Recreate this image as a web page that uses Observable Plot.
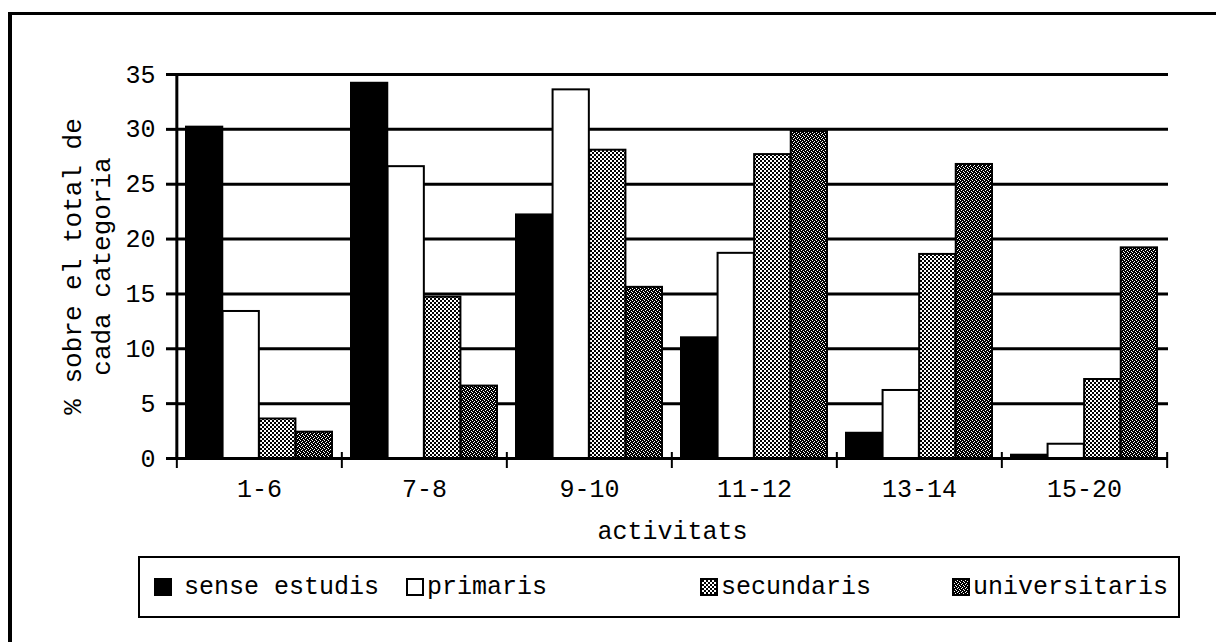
<!DOCTYPE html>
<html>
<head>
<meta charset="utf-8">
<script src="https://cdn.jsdelivr.net/npm/d3@7"></script>
<script src="https://cdn.jsdelivr.net/npm/@observablehq/plot@0.6"></script>
<style>
  html, body { margin: 0; padding: 0; background: #fff; }
  #wrap { position: relative; width: 1216px; height: 642px; overflow: hidden; background: #fff;
          font-family: "Liberation Mono", "DejaVu Sans Mono", monospace; color: #000; }
  #frame { position: absolute; left: 8px; top: 12px; width: 1208px; height: 630px;
           border-top: 3px solid #000; border-left: 4px solid #000; box-sizing: border-box; pointer-events: none; }
  #chart { position: absolute; left: 0; top: 0; }
  #legend { position: absolute; left: 138px; top: 556px; width: 1042px; height: 62px;
            border: 2px solid #000; box-sizing: border-box; background: #fff; }
  .item { position: absolute; top: 0; height: 100%; display: flex; align-items: center;
          font-size: 25px; white-space: pre; }
</style>
</head>
<body>
<div id="wrap">
  <div id="chart"></div>
  <div id="legend"></div>
  <div id="frame"></div>
</div>
<script>
// ---- data ----
const categories = ["1-6", "7-8", "9-10", "11-12", "13-14", "15-20"];
const series = ["sense estudis", "primaris", "secundaris", "universitaris"];
const senseEstudis  = [30.2, 34.2, 22.2, 11.0, 2.3, 0.3];
const primarisVals  = [13.4, 26.6, 33.6, 18.7, 6.2, 1.3];
const secundarisVals = [3.6, 14.7, 28.1, 27.7, 18.6, 7.2];
const universitarisVals = [2.4, 6.6, 15.6, 29.8, 26.8, 19.2];
const yTicks = [0, 5, 10, 15, 20, 25, 30, 35];
const xTitle = "activitats";
const yTitle = ["% sobre el total de", "cada categoria"];

const valuesBySeries = [senseEstudis, primarisVals, secundarisVals, universitarisVals];
const rows = [];
series.forEach((s, j) => categories.forEach((c, i) => rows.push({cat: c, series: s, value: valuesBySeries[j][i]})));

// ---- layout ----
const W = 1216, H = 545, mL = 176, mR = 48, mT = 74, mB = 87;
const pIn = 0.115, pOut = pIn / 2;
const step = (W - mL - mR) / (categories.length - pIn + 2 * pOut);
const bw = step * (1 - pIn);
const q = bw / series.length;
const font = "Liberation Mono";

const barMarks = series.map((s, j) =>
  Plot.barY(rows.filter(d => d.series === s), {
    x: "cat", y: "value", fill: "series", stroke: "#000", strokeWidth: 2,
    insetLeft: j * q, insetRight: (series.length - 1 - j) * q
  })
);

const chart = Plot.plot({
  width: W, height: H,
  marginLeft: mL, marginRight: mR, marginTop: mT, marginBottom: mB,
  style: {fontFamily: font, fontSize: "25px", color: "#000", background: "transparent"},
  x: {type: "band", domain: categories, paddingInner: pIn, paddingOuter: pOut, axis: null},
  y: {domain: [0, 35], axis: null},
  color: {type: "ordinal", domain: series, range: ["#000", "#fff", "url(#pSec)", "url(#pUni)"]},
  marks: [
    Plot.ruleY(yTicks.filter(v => v > 0), {stroke: "#000", strokeWidth: 3}),
    ...barMarks,
    Plot.ruleY([0], {stroke: "#000", strokeWidth: 3}),
    Plot.ruleX([categories[0]], {dx: -step / 2, stroke: "#000", strokeWidth: 3}),
    Plot.ruleX(categories, {dx: -step / 2, y1: 0, y2: 0, insetTop: 10, insetBottom: 6, stroke: "#000", strokeWidth: 2}),
    Plot.ruleX([categories[categories.length - 1]], {dx: step / 2, y1: 0, y2: 0, insetTop: 10, insetBottom: 6, stroke: "#000", strokeWidth: 2}),
    Plot.axisY(yTicks, {tickSize: 10, tickPadding: 11, strokeWidth: 3, fontSize: 25, fontFamily: font, label: null}),
    Plot.axisX({tickSize: 0, tickPadding: 21, fontSize: 25, fontFamily: font, label: null}),
    Plot.text([xTitle], {frameAnchor: "bottom", dy: 72, lineAnchor: "middle", fontSize: 25, fontFamily: font}),
    Plot.text([yTitle.join("\n")], {frameAnchor: "left", dx: -90, rotate: -90, textAnchor: "middle", lineAnchor: "middle", lineHeight: 1.08, fontSize: 26, fontFamily: font})
  ]
});

// patterns for hatched fills
const defs = d3.select(chart).insert("defs", ":first-child");
function pixelPattern(id, size, pixels, bg, fg) {
  const p = defs.append("pattern").attr("id", id).attr("patternUnits", "userSpaceOnUse")
    .attr("width", size).attr("height", size);
  p.append("rect").attr("width", size).attr("height", size).attr("fill", bg);
  pixels.forEach(([x, y, w, h]) => p.append("rect").attr("x", x).attr("y", y)
    .attr("width", w).attr("height", h).attr("fill", fg));
}
pixelPattern("pSec", 4, [[0, 0, 2, 2], [2, 2, 2, 2]], "#fff", "#000");
pixelPattern("pUni", 4, [[0, 0, 1, 1], [2, 1, 1, 1], [1, 2, 1, 1], [3, 3, 1, 1]], "#000", "#fff");

document.getElementById("chart").appendChild(chart);

// legend
const color = chart.scale("color");
const legendX = [14, 266, 560, 812];
const legend = d3.select("#legend");
series.forEach((s, j) => {
  const item = legend.append("div").attr("class", "item").style("left", legendX[j] + "px");
  const sw = item.append("svg").attr("width", 18).attr("height", 18)
    .style("margin-right", j === 0 ? "12px" : "3px");
  sw.append("rect").attr("x", 1).attr("y", 1).attr("width", 16).attr("height", 16)
    .attr("fill", color.range[j]).attr("stroke", "#000").attr("stroke-width", 2);
  item.append("span").text(s);
});
</script>
</body>
</html>
